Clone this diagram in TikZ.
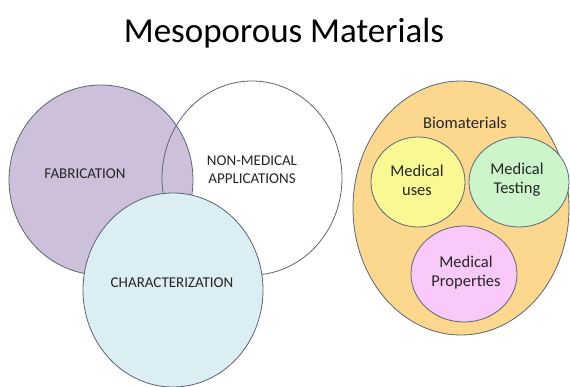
\documentclass[tikz,border=0pt]{standalone}
\usepackage{fontspec}
\setmainfont{Carlito}
\usetikzlibrary{shapes.geometric}

\definecolor{rimgray}{RGB}{92,102,118}
\definecolor{fabpurple}{RGB}{204,192,219}
\definecolor{charblue}{RGB}{218,238,243}
\definecolor{bioorange}{RGB}{251,216,142}
\definecolor{usesyellow}{RGB}{249,249,148}
\definecolor{testgreen}{RGB}{204,245,204}
\definecolor{proppink}{RGB}{249,201,249}

\begin{document}
\begin{tikzpicture}[x=1pt, y=-1pt,
	every node/.style={inner sep=0pt, outer sep=0pt},
	blob/.style={ellipse, draw=rimgray, line width=0.8pt},
	capword/.style={rectangle, draw=none, text=black!85, align=center, font=\fontsize{15}{18}\selectfont},
	word/.style={rectangle, draw=none, text=black!85, align=center, font=\fontsize{16.5}{19}\selectfont}]
			\clip (0,0) rectangle (570,387);
			\fill[white] (0,0) rectangle (570,387);
			
			\node[rectangle, draw=none, font=\fontsize{35}{40}\selectfont] (title) at (284,33){Mesoporous Materials};
			
			% left group
			\node[blob, draw=none, fill=white, minimum width=180, minimum height=194] (nonmedbg) at (252,178){};
			\node[blob, fill=fabpurple, minimum width=184, minimum height=190] (fab) at (101,180){};
			\node[blob, minimum width=180, minimum height=194] (nonmed) at (252,178){};
			\node[blob, fill=charblue, minimum width=180, minimum height=194] (char) at (173,290){};
			
			\node[capword] (fabtext) at (85,174){FABRICATION};
			\node[capword] (nonmedtext) at (252,170){NON-MEDICAL\\APPLICATIONS};
			\node[capword] (chartext) at (172,283){CHARACTERIZATION};
			
			% right group
			\node[blob, fill=bioorange, minimum width=216, minimum height=254] (bio) at (461,208){};
			\node[blob, fill=usesyellow, minimum width=94, minimum height=90] (uses) at (418,182){};
			\node[blob, fill=testgreen, minimum width=100, minimum height=90] (testing) at (519,182){};
			\node[blob, fill=proppink, minimum width=106, minimum height=96] (props) at (464,274){};
			
			\node[word] (biotext) at (465,123){Biomaterials};
			\node[word] (usestext) at (417,180){Medical\\uses};
			\node[word] (testingtext) at (517,180){Medical\\Testing};
			\node[word] (propstext) at (466,273){Medical\\Properties};
			\end{tikzpicture}
\end{document}
